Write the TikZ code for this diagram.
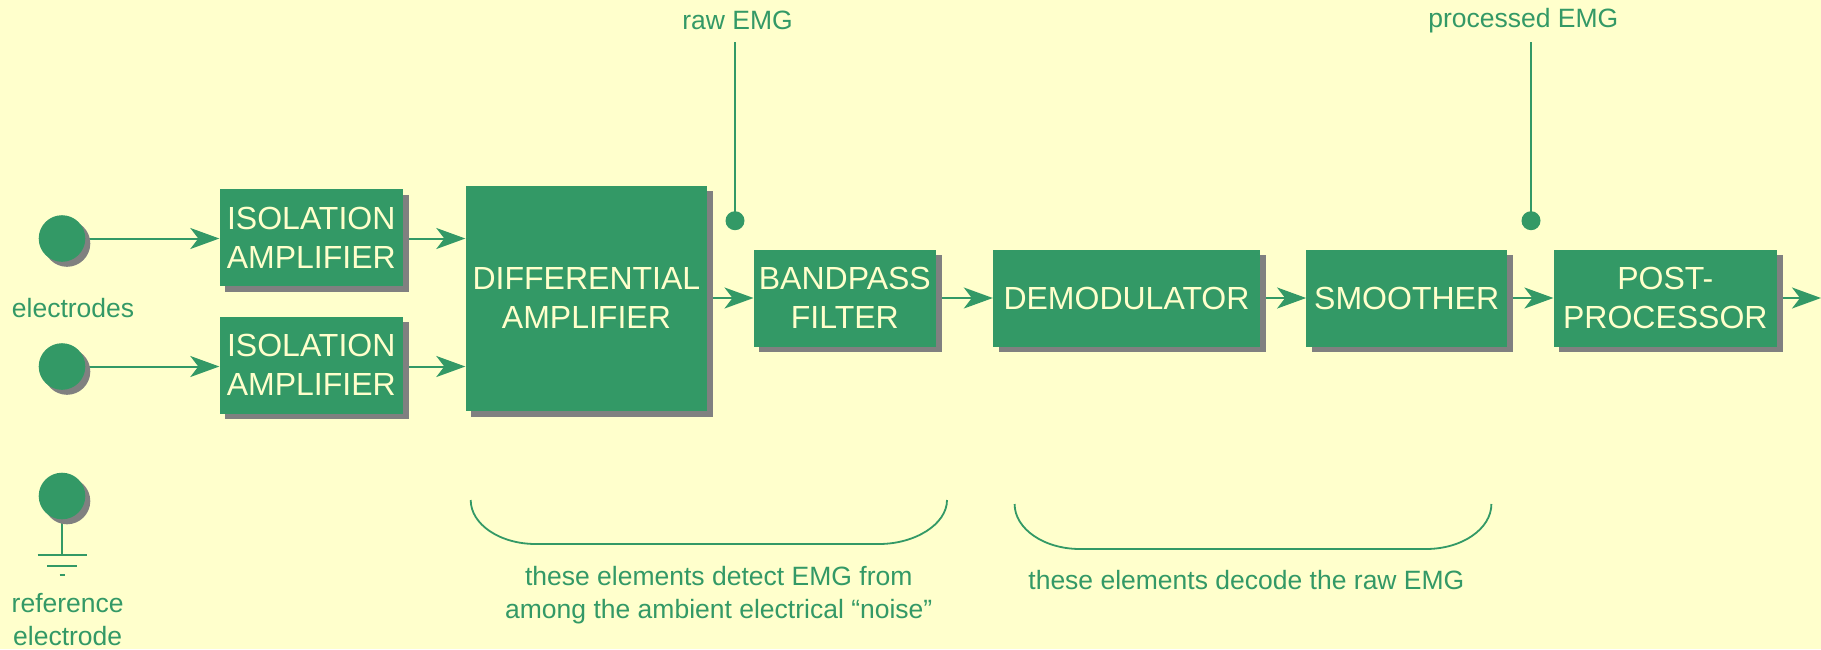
\documentclass[tikz,border=0pt]{standalone}
\usepackage{fontspec}
\setmainfont{Liberation Sans}
\usetikzlibrary{arrows.meta,shadows}
\definecolor{bg}{HTML}{FFFFCC}
\definecolor{grn}{HTML}{339966}
\definecolor{shd}{HTML}{808080}
\pgfdeclarelayer{background}
\pgfdeclarelayer{canvas}
\pgfsetlayers{canvas,background,main}
\begin{document}
\begin{tikzpicture}[x=1pt,y=-1pt,
  shd/.style={drop shadow={shadow xshift=5.5pt, shadow yshift=-5.5pt, fill=shd, opacity=1}},
  blk/.style={fill=grn, text=bg, draw=none, inner sep=0pt, align=center,
    font=\fontsize{32}{38.7}\selectfont, shd},
  elec/.style={circle, fill=grn, minimum size=46.6pt, inner sep=0pt,
    drop shadow={shadow xshift=5pt, shadow yshift=-5pt, fill=shd, opacity=1}},
  dotnode/.style={circle, fill=grn, minimum size=19pt, inner sep=0pt},
  lbl/.style={text=grn, font=\fontsize{26.5}{33}\selectfont, align=center, inner sep=0pt},
  wire/.style={draw=grn, line width=2pt},
  arr/.style={wire, -{Stealth[length=29pt,width=21pt,inset=8pt]}},
  brace/.style={draw=grn, line width=1.8pt},
]
\begin{pgfonlayer}{canvas}
\fill[bg] (0,0) rectangle (1821,649);
\end{pgfonlayer}
\useasboundingbox (0,0) rectangle (1821,649);

% electrodes
\node[elec] (e1) at (62,238.5) {};
\node[elec] (e2) at (62,366.5) {};
\node[elec] (e3) at (62,496) {};
\node[lbl, anchor=west] (elab) at (11.7,308) {electrodes};
\node[lbl] (rlab) at (67.7,619.5) {reference\\electrode};

% blocks
\node[blk, minimum width=183.5pt, minimum height=97pt] (iso1) at (311.25,237.5) {ISOLATION\\AMPLIFIER};
\node[blk, minimum width=183.5pt, minimum height=97pt] (iso2) at (311.25,365) {ISOLATION\\AMPLIFIER};
\node[blk, minimum width=241.8pt, minimum height=225.5pt] (diff) at (586.4,298.25) {DIFFERENTIAL\\AMPLIFIER};
\node[blk, minimum width=182.3pt, minimum height=97pt] (bp) at (844.85,298) {BANDPASS\\FILTER};
\node[blk, minimum width=267pt, minimum height=97pt] (dem) at (1126.5,298) {DEMODULATOR};
\node[blk, minimum width=200.7pt, minimum height=97pt] (smo) at (1406.65,298) {SMOOTHER};
\node[blk, minimum width=223.4pt, minimum height=97pt] (post) at (1665.3,298) {POST-\\PROCESSOR};

% taps
\node[dotnode] (d1) at (735,220.7) {};
\node[dotnode] (d2) at (1531,220.7) {};
\coordinate (t1) at (735,41.7);
\coordinate (t2) at (1531,41.7);
\node[lbl] (rawlab) at (737.5,20.7) {raw EMG};
\node[lbl] (proclab) at (1523.3,20.7) {processed EMG};

\coordinate (out) at (1821,298);
\coordinate (g) at (62,555);
\coordinate (g1l) at (37.5,555);
\coordinate (g1r) at (86.5,555);
\coordinate (g2l) at (47.3,565.7);
\coordinate (g2r) at (76.7,565.7);
\coordinate (g3l) at (59.5,575);
\coordinate (g3r) at (64.5,575);

\begin{pgfonlayer}{background}
\draw[arr] (e1.center) -- (e1.center -| iso1.west);
\draw[arr] (e2.center) -- (e2.center -| iso2.west);
\draw[arr] (iso1.east |- e1.center) -- (e1.center -| diff.west);
\draw[arr] (iso2.east |- e2.center) -- (e2.center -| diff.west);
\draw[arr] (diff.east |- bp.west) -- (bp.west);
\draw[arr] (bp.east) -- (dem.west);
\draw[arr] (dem.east) -- (smo.west);
\draw[arr] (smo.east) -- (post.west);
\draw[arr] (post.east) -- (out);
\draw[wire] (d1.center) -- (t1);
\draw[wire] (d2.center) -- (t2);
\draw[wire] (e3.center) -- (g);
\end{pgfonlayer}
\draw[wire] (g1l) -- (g1r);
\draw[wire] (g2l) -- (g2r);
\draw[wire] (g3l) -- (g3r);

% braces
\draw[brace] (470.7,500) .. controls (470.7,524.3) and (499.8,544) .. (535.7,544)
  -- (879,544) .. controls (914.9,544) and (947,524.3) .. (947,500);
\draw[brace] (1014.6,504) .. controls (1014.6,528.8) and (1043.9,549) .. (1080,549)
  -- (1426,549) .. controls (1462.1,549) and (1491.4,528.8) .. (1491.4,504);
\node[lbl] (b1lab) at (718.75,595) {these elements detect EMG from\\among the ambient electrical \textquotedblleft noise\textquotedblright};
\node[lbl] (b2lab) at (1246.4,580) {these elements decode the raw EMG};
\end{tikzpicture}
\end{document}
